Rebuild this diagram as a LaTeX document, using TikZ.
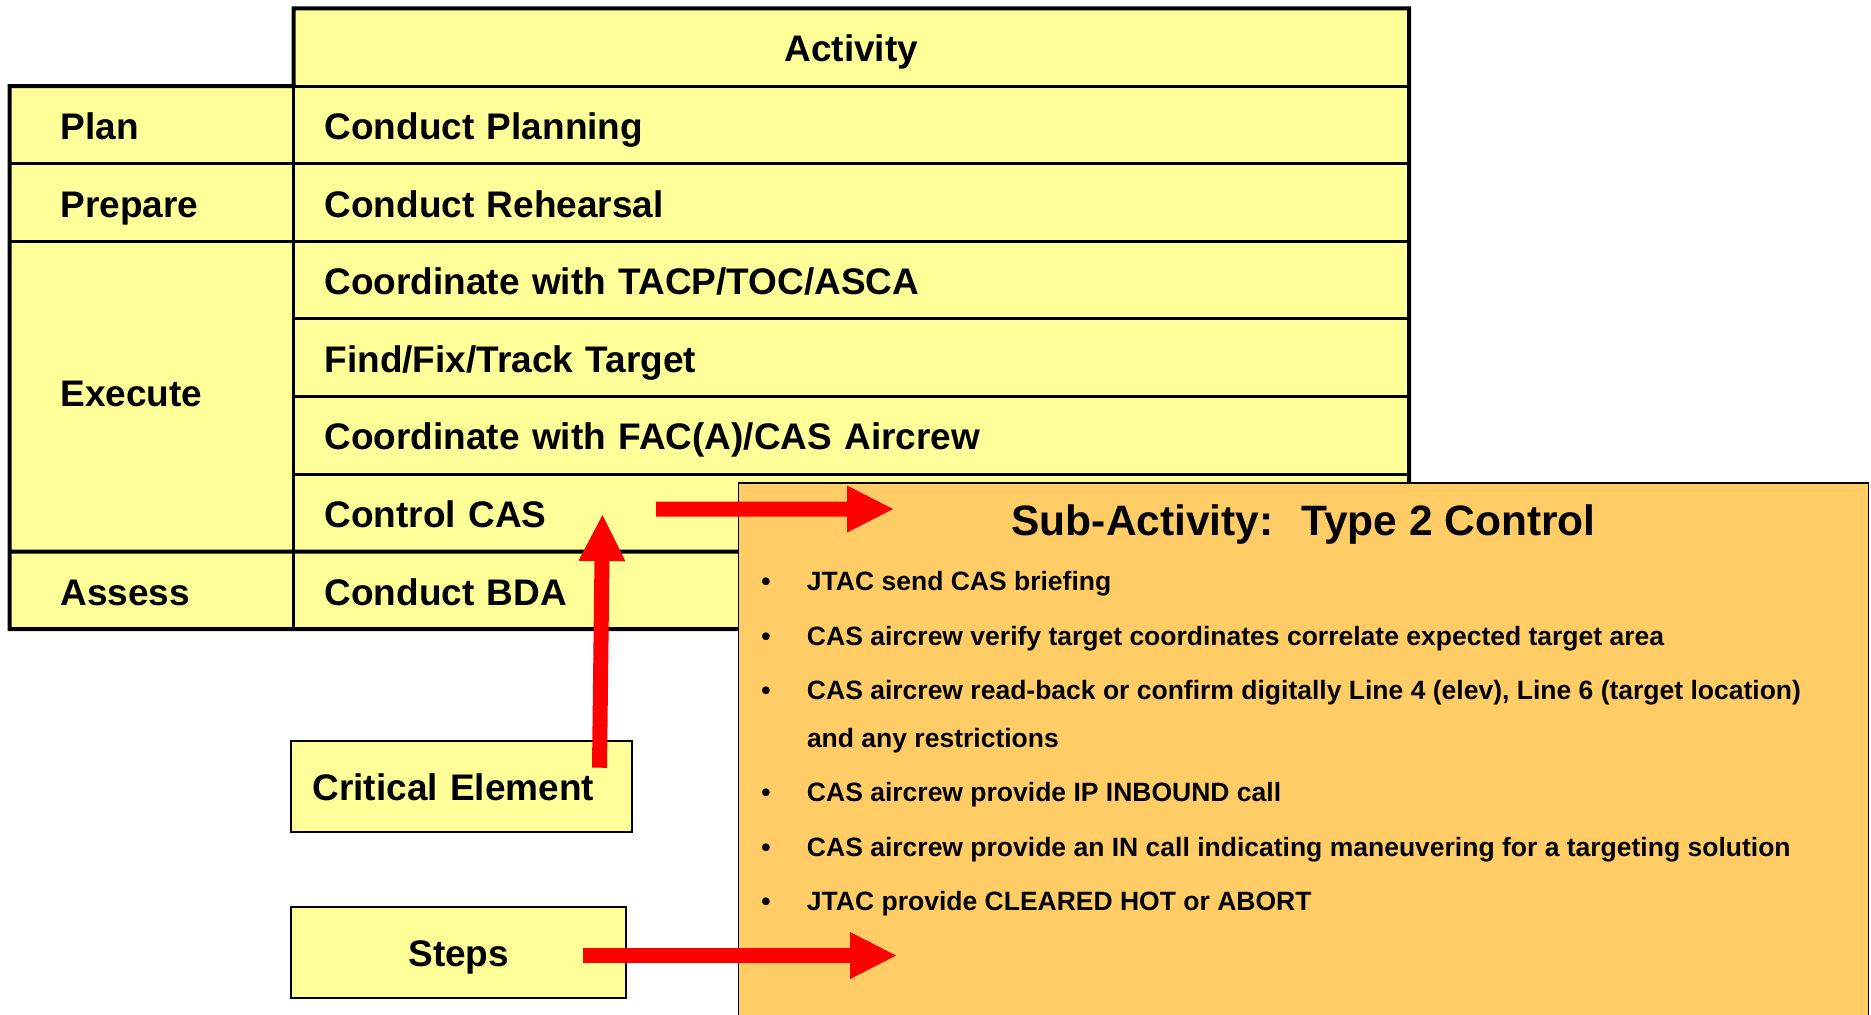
\documentclass[tikz,border=0pt]{standalone}
\usepackage{fontspec}
\setmainfont{Liberation Sans}
\usepackage{tikz}
\usetikzlibrary{positioning, arrows.meta}
\definecolor{cellyellow}{RGB}{255,255,153}
\definecolor{panelorange}{RGB}{255,204,102}
\definecolor{arrowred}{RGB}{255,0,0}
\tikzstyle{phasecell} = [rectangle, minimum width=142pt, minimum height=38.8pt, text width=91pt, inner xsep=25.5pt, inner ysep=0pt, outer sep=0pt, align=left, text height=15pt, text depth=0.3pt, draw=black, line width=1.5pt, fill=cellyellow, font=\fontsize{18.5}{22}\selectfont\bfseries]
\tikzstyle{activitycell} = [phasecell, minimum width=557.75pt, text width=526.75pt, inner xsep=15.5pt]
\tikzstyle{headcell} = [activitycell, align=center]
\tikzstyle{keybox} = [rectangle, minimum height=45.4pt, inner sep=0pt, outer sep=0pt, text height=15pt, text depth=0.5pt, draw=black, line width=1pt, fill=cellyellow, font=\fontsize{18.5}{22}\selectfont\bfseries]
\tikzstyle{subpanel} = [rectangle, minimum width=565pt, minimum height=300pt, inner sep=0pt, outer sep=0pt, draw=black, line width=0.75pt, fill=panelorange]
\tikzstyle{subhead} = [inner sep=0pt, font=\fontsize{21.25}{25}\selectfont\bfseries]
\tikzstyle{steplist} = [align=left, inner sep=0pt, font=\fontsize{13.25}{23.85}\selectfont\bfseries]
\tikzstyle{fatarrow} = [line width=7.5pt, color=arrowred, -{Triangle[length=23pt, width=23.5pt, line width=0pt]}]
\newcommand{\stepitem}[1]{\makebox[22.8pt][l]{\textbullet}#1}

\begin{document}
\begin{tikzpicture}[node distance=38.8pt]
        \useasboundingbox (0,0) rectangle (935.5pt,-507pt);

        \node (Activity) [headcell] at (425.625pt,-23.6pt) {Activity};
        \node (Planning) [activitycell, below of=Activity] {Conduct Planning};
        \node (Rehearsal) [activitycell, below of=Planning] {Conduct Rehearsal};
        \node (Coordinate) [activitycell, below of=Rehearsal] {Coordinate with TACP/TOC/ASCA};
        \node (FindFix) [activitycell, below of=Coordinate] {Find/Fix/Track Target};
        \node (Aircrew) [activitycell, below of=FindFix] {Coordinate with FAC(A)/CAS Aircrew};
        \node (ControlCAS) [activitycell, below of=Aircrew] {Control CAS};
        \node (BDA) [activitycell, below of=ControlCAS] {Conduct BDA};

        \node (Plan) [phasecell, left=0pt of Planning] {Plan};
        \node (Prepare) [phasecell, below of=Plan] {Prepare};
        \node (Execute) [phasecell, below of=Prepare, yshift=-58.2pt, minimum height=155.2pt, text depth=5pt] {Execute};
        \node (Assess) [phasecell, below of=Execute, yshift=-58.2pt] {Assess};

        \draw [line width=2pt] (Plan.north west) -- (Activity.south west) -- (Activity.north west) -- (Activity.north east) -- (BDA.south east) -- (Assess.south west) -- cycle;
        \draw [line width=2pt] (Assess.north west) -- (BDA.north east);

        \node (SubActivity) [subpanel, anchor=north west] at (369.3pt,-241.5pt) {};
        \node (SubTitle) [subhead] at ([yshift=-20.8pt]SubActivity.north) {Sub-Activity:~ Type 2 Control};
        \node (StepList) [steplist, anchor=north west] at ([xshift=11.2pt, yshift=-44.1pt]SubActivity.north west) {%
            \stepitem{JTAC send CAS briefing}\\[3.35pt]
            \stepitem{CAS aircrew verify target coordinates correlate expected target area}\\[3.35pt]
            \stepitem{CAS aircrew read-back or confirm digitally Line 4 (elev), Line 6 (target location)}\\
            \hspace*{22.8pt}and any restrictions\\[3.35pt]
            \stepitem{CAS aircrew provide IP INBOUND call}\\[3.35pt]
            \stepitem{CAS aircrew provide an IN call indicating maneuvering for a targeting solution}\\[3.35pt]
            \stepitem{JTAC provide CLEARED HOT or ABORT}};

        \node (Critical) [keybox, minimum width=170.7pt, text width=149.2pt, inner xsep=10.75pt, align=left] at (230.85pt,-393.2pt) {Critical Element};
        \node (Steps) [keybox, minimum width=167.7pt] at (229.35pt,-476.1pt) {Steps};

        \coordinate (CasTail) at ([xshift=181.25pt, yshift=1.9pt]ControlCAS.west);
        \coordinate (CasTip) at ([xshift=77.2pt, yshift=-13pt]SubActivity.north west);
        \coordinate (CritTail) at ([xshift=68.9pt, yshift=-13.35pt]Critical.north);
        \coordinate (CritTip) at ([xshift=154.5pt, yshift=18.3pt]ControlCAS.south west);
        \coordinate (StepTail) at ([xshift=61.95pt, yshift=-1.65pt]Steps.center);
        \coordinate (StepTip) at ([xshift=78.7pt, yshift=-236.25pt]SubActivity.north west);

        \draw [fatarrow] (CasTail) -- (CasTip);
        \draw [fatarrow] (CritTail) -- (CritTip);
        \draw [fatarrow] (StepTail) -- (StepTip);

      \end{tikzpicture}
\end{document}
